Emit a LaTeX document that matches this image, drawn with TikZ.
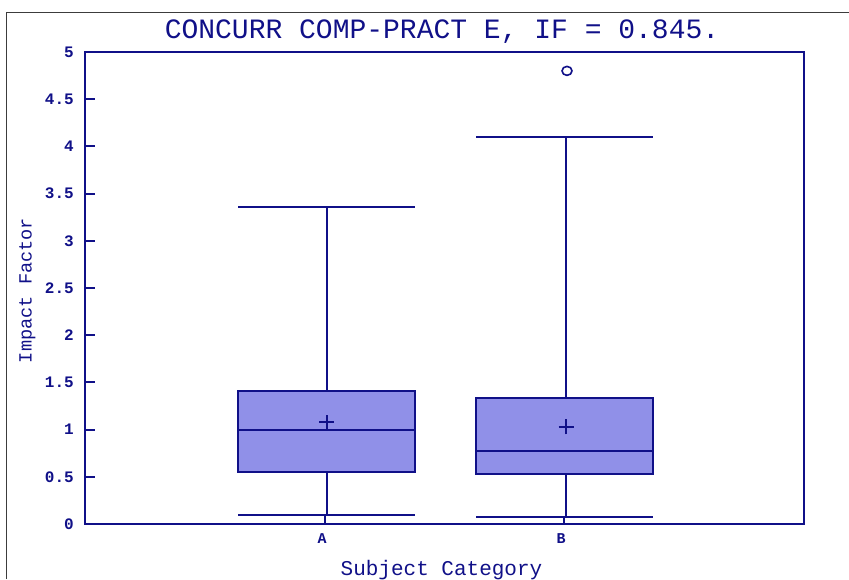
\documentclass[tikz,border=0pt]{standalone}
\usepackage{fontspec}
\setmonofont{Liberation Mono}
\usepackage{xcolor}
\definecolor{colorAxis}{RGB}{16,16,136}
\definecolor{colorBox}{RGB}{144,144,232}
\definecolor{colorFrame}{RGB}{60,60,60}
\usetikzlibrary{positioning}
\tikzset{
  plotline/.style={draw=colorAxis, line width=2pt},
  boxfill/.style={plotline, fill=colorBox},
  ticklabel/.style={anchor=east, inner sep=0pt, font=\ttfamily\bfseries\fontsize{16}{16}\selectfont},
  catlabel/.style={anchor=north, inner sep=0pt, font=\ttfamily\bfseries\fontsize{15}{15}\selectfont}
}

\begin{document}
\begin{tikzpicture}[x=1pt, y=1pt, every node/.style={text=colorAxis, font=\ttfamily}]
\useasboundingbox (0,0) rectangle (849,579);
\draw[colorFrame, line width=1.5pt] (6.5,0) |- (849,566.5);
\node[anchor=base, font=\ttfamily\fontsize{28}{28}\selectfont] (title) at (442,540.5) {CONCURR COMP-PRACT E, IF = 0.845.};
\node[anchor=base, rotate=90, font=\ttfamily\fontsize{18.6}{18.6}\selectfont] (ylabel) at (31.5,288.5) {Impact Factor};
\node[anchor=base, font=\ttfamily\fontsize{21}{21}\selectfont] (xlabel) at (441.5,4) {Subject Category};
\begin{scope}[shift={(85,55)}, y=94.4pt]
% box A
\draw[plotline] (241.5,1.41) -- (241.5,3.36);
\draw[plotline] (241.5,0.55) -- (241.5,0.095);
\draw[plotline] (153,3.36) -- (330,3.36);
\draw[plotline] (153,0.095) -- (330,0.095);
\draw[boxfill] (153,0.55) rectangle (330,1.41);
\draw[plotline] (153,1) -- (330,1);
\draw[plotline] (241.5,1.08) +(-7.5pt,0pt) -- +(7.5pt,0pt) +(0pt,-7.5pt) -- +(0pt,7.5pt);
% box B
\draw[plotline] (481,1.33) -- (481,4.1);
\draw[plotline] (481,0.53) -- (481,0.075);
\draw[plotline] (391,4.1) -- (568,4.1);
\draw[plotline] (391,0.075) -- (568,0.075);
\draw[boxfill] (391,0.53) rectangle (568,1.33);
\draw[plotline] (391,0.77) -- (568,0.77);
\draw[plotline] (481,1.03) +(-7.5pt,0pt) -- +(7.5pt,0pt) +(0pt,-7.5pt) -- +(0pt,7.5pt);
\draw[plotline, line width=1.6pt] (482,4.8) ellipse [x radius=5pt, y radius=4.5pt];
% axes
\draw[plotline] (0,0) rectangle (719,5);
\foreach \v in {0.5,1,...,4.5}
  \draw[plotline] (0,\v) -- ++(10pt,0pt);
\foreach \v/\t in {0/0,0.5/0.5,1/1,1.5/1.5,2/2,2.5/2.5,3/3,3.5/3.5,4/4,4.5/4.5,5/5}
  \node[ticklabel] (tick\t) at (-11,\v) {\t};
\coordinate (tickA) at (240,0);
\coordinate (tickB) at (479,0);
\draw[plotline] (tickA) -- ++(0pt,8pt);
\draw[plotline] (tickB) -- ++(0pt,8pt);
\node[catlabel, below=9pt of tickA, xshift=-3pt] (labelA) {A};
\node[catlabel, below=9pt of tickB, xshift=-3pt] (labelB) {B};
\end{scope}
\end{tikzpicture}
\end{document}
